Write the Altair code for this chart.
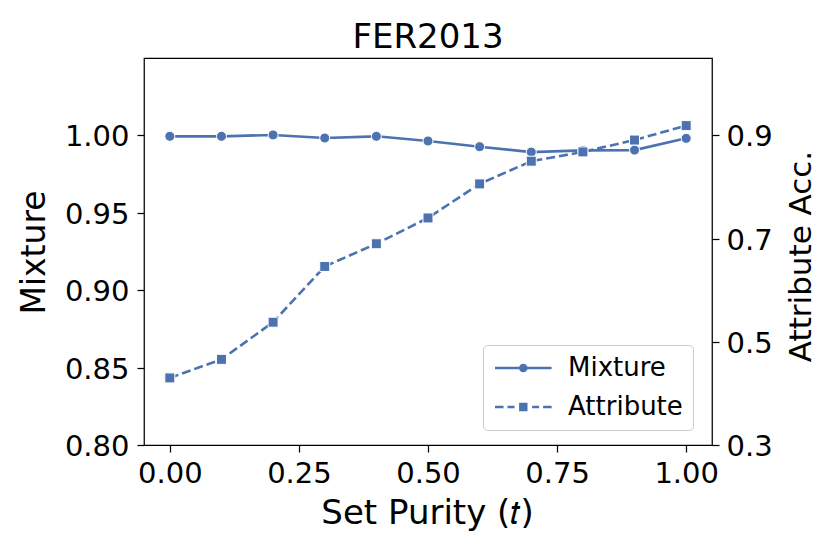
import altair as alt
import pandas as pd

# ---- data ----
purity = [0.0, 0.1, 0.2, 0.3, 0.4, 0.5, 0.6, 0.7, 0.8, 0.9, 1.0]
mixture = [0.9994, 0.9994, 1.0003, 0.9983, 0.9994, 0.9964, 0.9927, 0.9892, 0.9903, 0.9905, 0.9981]
attribute = [0.430, 0.466, 0.538, 0.646, 0.690, 0.740, 0.806, 0.850, 0.868, 0.891, 0.919]
series_names = ["Mixture", "Attribute"]
x_ticks = [0.0, 0.25, 0.5, 0.75, 1.0]
left_ticks = [0.80, 0.85, 0.90, 0.95, 1.00]
right_ticks = [0.3, 0.5, 0.7, 0.9]

BLUE = "#4C72B0"
FONT = "DejaVu Sans"

df = pd.DataFrame({"t": purity, "Mixture": mixture, "Attribute": attribute})
legend_df = pd.DataFrame({"series": series_names})

# legend glyphs (line + marker drawn as filled shapes), in symbol units (1 unit = 10 px)
def seg(x0, x1, hw=0.13):
    return f"M{x0},{-hw}H{x1}V{hw}H{x0}Z"

path_mix = (seg(-1.1, 1.35) + seg(2.11, 4.56)
            + "M1.30,0A0.43,0.43 0 1,1 2.16,0A0.43,0.43 0 1,1 1.30,0Z")
path_att = (seg(-1.1, -0.25) + seg(0.15, 0.85) + seg(2.61, 3.31) + seg(3.71, 4.56)
            + "M1.31,-0.42H2.15V0.42H1.31Z")

W, H = 568, 387

x_enc = alt.X(
    "t:Q",
    scale=alt.Scale(domain=[-0.05, 1.05], nice=False, zero=False),
    axis=alt.Axis(values=x_ticks, format=".2f", title="Set Purity (\U0001D461)",
                  titleX=283, titleY=78, titleBaseline="alphabetic",
                  titleAlign="center", titleFontSize=34, labelPadding=7),
)

y_left = alt.Y(
    "Mixture:Q",
    scale=alt.Scale(domain=[0.80, 1.05], nice=False, zero=False),
    axis=alt.Axis(values=left_ticks, format=".2f", title="Mixture", orient="left",
                  titleAngle=270, titleX=-100, titleY=194, titleBaseline="alphabetic",
                  titleAlign="center", titleFontSize=33, labelPadding=8, labelOffset=1.5),
)

y_right = alt.Y(
    "Attribute:Q",
    scale=alt.Scale(domain=[0.3, 1.05], nice=False, zero=False),
    axis=alt.Axis(values=right_ticks, format=".1f", title="Attribute Acc.", orient="right",
                  titleAngle=270, titleX=98, titleY=198, titleBaseline="alphabetic",
                  titleAlign="center", titleFontSize=31, labelPadding=7, labelOffset=1.5),
)

base = alt.Chart(df)

mix_line = base.mark_line(color=BLUE, strokeWidth=2.6).encode(x=x_enc, y=y_left)
mix_pts = base.mark_point(filled=True, shape="circle", size=100, color=BLUE,
                          stroke="white", strokeWidth=1, opacity=1).encode(x=x_enc, y=y_left)
att_line = base.mark_line(color=BLUE, strokeWidth=2.6, strokeDash=[9, 4]).encode(x=x_enc, y=y_right)
att_pts = base.mark_point(filled=True, shape="square", size=100, color=BLUE,
                          stroke="white", strokeWidth=1, opacity=1).encode(x=x_enc, y=y_right)

legend_layer = alt.Chart(legend_df).mark_point(
    filled=True, color=BLUE, size=400, opacity=1
).encode(
    shape=alt.Shape(
        "series:N",
        scale=alt.Scale(domain=series_names, range=[path_mix, path_att]),
        legend=alt.Legend(
            title=None, orient="none", legendX=339, legendY=287,
            labelFontSize=26, labelFont=FONT, labelColor="black", labelLimit=400,
            symbolSize=400, symbolFillColor=BLUE, symbolOpacity=1,
            labelOffset=49, rowPadding=13, padding=10,
            strokeColor="#cccccc", fillColor="rgba(255,255,255,0.8)", cornerRadius=4,
        ),
    )
).transform_filter("datum.series == 'none'")

left_layer = alt.layer(mix_line, mix_pts)
right_layer = alt.layer(att_line, att_pts)

chart = alt.layer(left_layer, right_layer, legend_layer).resolve_scale(
    y="independent"
).properties(
    width=W, height=H,
    background="white",
    title=alt.TitleParams("FER2013", fontSize=34, font=FONT, fontWeight="normal",
                          anchor="middle", baseline="alphabetic", offset=10, dy=34,
                          color="black"),
    autosize=alt.AutoSizeParams(type="none"),
    padding={"left": 136, "top": 50, "right": 106, "bottom": 95},
).configure_view(
    stroke="black", strokeWidth=1.25
).configure_axis(
    labelFont=FONT, titleFont=FONT, labelFontSize=29, titleFontWeight="normal",
    labelColor="black", titleColor="black", tickColor="black", tickWidth=1.25,
    tickSize=7, domain=False, grid=False,
)

chart.save("out.html", embed_options={"renderer": "svg", "actions": False})
